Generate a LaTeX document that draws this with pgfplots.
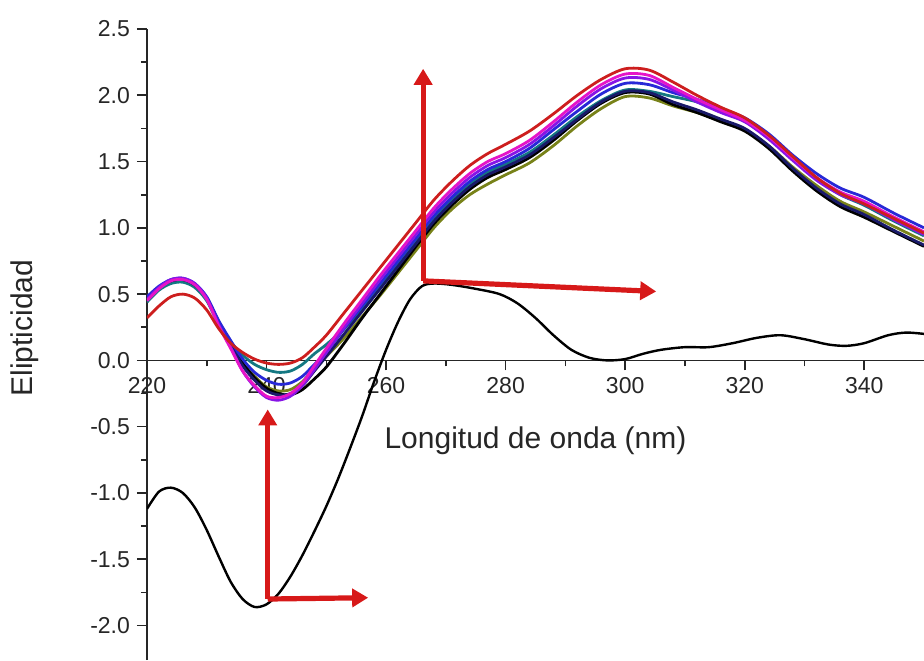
\documentclass[border=0pt]{standalone}
\usepackage{pgfplots}
\usepackage{pgfplotstable}
\pgfplotsset{compat=1.18}
\usepackage{fontspec}
\setmainfont{Liberation Sans}
\usetikzlibrary{arrows.meta,calc}

\definecolor{cred}{RGB}{205,30,30}
\definecolor{cmag}{RGB}{230,20,200}
\definecolor{cvio}{RGB}{135,20,230}
\definecolor{cblue}{RGB}{40,40,215}
\definecolor{cnavy}{RGB}{25,25,105}
\definecolor{cteal}{RGB}{20,120,130}
\definecolor{colive}{RGB}{120,130,25}
\definecolor{arrred}{RGB}{215,25,25}

\pgfplotstableread{
x r m v b n t o k
220 0.32 0.45 0.46 0.48 0.47 0.44 0.46 0.47
222 0.41 0.54 0.55 0.56 0.55 0.53 0.54 0.55
224 0.48 0.60 0.61 0.61 0.60 0.58 0.59 0.60
226 0.50 0.61 0.62 0.62 0.61 0.59 0.60 0.61
228 0.47 0.57 0.58 0.58 0.57 0.55 0.56 0.57
230 0.38 0.46 0.47 0.48 0.47 0.45 0.46 0.47
232 0.24 0.26 0.27 0.30 0.28 0.27 0.28 0.29
234 0.13 0.09 0.10 0.15 0.12 0.14 0.13 0.13
236 0.06 -0.08 -0.08 0.01 -0.04 0.04 -0.02 -0.02
238 0.01 -0.19 -0.20 -0.09 -0.15 -0.03 -0.12 -0.13
240 -0.02 -0.27 -0.28 -0.15 -0.23 -0.07 -0.20 -0.21
242 -0.03 -0.28 -0.30 -0.18 -0.26 -0.09 -0.23 -0.25
244 -0.02 -0.25 -0.27 -0.17 -0.25 -0.08 -0.22 -0.26
246 0.02 -0.17 -0.19 -0.12 -0.19 -0.03 -0.16 -0.22
248 0.10 -0.04 -0.07 -0.03 -0.08 0.05 -0.06 -0.14
250 0.19 0.09 0.06 0.06 0.03 0.12 0.03 -0.05
253 0.36 0.28 0.25 0.24 0.20 0.24 0.17 0.13
256 0.53 0.46 0.43 0.41 0.37 0.39 0.33 0.32
259 0.70 0.64 0.61 0.58 0.54 0.56 0.49 0.50
262 0.87 0.81 0.78 0.75 0.71 0.73 0.66 0.68
265 1.04 0.98 0.95 0.92 0.88 0.90 0.83 0.86
268 1.21 1.15 1.12 1.09 1.05 1.07 1.00 1.03
271 1.35 1.29 1.26 1.23 1.19 1.21 1.14 1.17
274 1.47 1.41 1.38 1.35 1.31 1.33 1.25 1.29
277 1.56 1.50 1.47 1.44 1.40 1.42 1.33 1.38
280 1.63 1.56 1.53 1.50 1.46 1.48 1.40 1.44
284 1.73 1.66 1.63 1.60 1.55 1.57 1.49 1.53
288 1.86 1.80 1.77 1.74 1.68 1.70 1.62 1.66
292 2.00 1.95 1.92 1.88 1.82 1.84 1.77 1.81
296 2.12 2.08 2.05 2.01 1.95 1.96 1.90 1.94
300 2.20 2.16 2.13 2.09 2.03 2.04 1.99 2.02
304 2.19 2.15 2.12 2.08 2.02 2.03 1.98 2.01
308 2.10 2.06 2.04 2.02 1.95 1.99 1.92 1.93
312 2.00 1.97 1.95 1.97 1.89 1.95 1.87 1.87
316 1.91 1.89 1.87 1.90 1.82 1.88 1.81 1.80
320 1.83 1.81 1.80 1.83 1.75 1.81 1.74 1.73
324 1.70 1.69 1.67 1.71 1.62 1.69 1.62 1.60
328 1.54 1.53 1.51 1.55 1.45 1.52 1.46 1.43
332 1.38 1.38 1.36 1.41 1.30 1.37 1.32 1.28
336 1.26 1.27 1.25 1.30 1.18 1.25 1.20 1.16
340 1.18 1.20 1.18 1.23 1.10 1.17 1.12 1.08
345 1.07 1.08 1.06 1.11 0.98 1.05 1.01 0.97
350 0.96 0.97 0.95 1.00 0.87 0.94 0.90 0.86
}\bundle

\pgfplotstableread{
x y
220 -1.12
222 -0.99
224 -0.96
226 -1.00
228 -1.11
230 -1.28
232 -1.48
234 -1.67
236 -1.80
238 -1.86
240 -1.84
242 -1.76
244 -1.63
246 -1.47
248 -1.29
250 -1.10
252 -0.89
254 -0.66
256 -0.42
258 -0.16
260 0.08
262 0.29
264 0.46
266 0.56
268 0.58
271 0.57
275 0.54
279 0.50
282 0.43
285 0.32
288 0.19
291 0.08
294 0.02
297 0.00
300 0.01
303 0.05
306 0.08
310 0.10
314 0.10
318 0.13
322 0.17
326 0.19
330 0.16
334 0.12
337 0.11
340 0.13
344 0.19
347 0.21
350 0.20
}\diff

\begin{document}
\begin{tikzpicture}
\begin{axis}[
  name=ax,
  scale only axis,
  width=388.5pt, height=315.5pt,
  xmin=220, xmax=350, ymin=-2.26, ymax=2.5,
  axis x line=middle, axis y line=left,
  axis line style={-, line width=0.9pt, black!85},
  xtick={220,240,...,340},
  ytick={-2,-1.5,...,2.5},
  minor x tick num=1, minor y tick num=1,
  tick align=outside,
  major tick length=5pt, minor tick length=3pt,
  tick style={line width=0.8pt, black!85},
  /pgf/number format/assume math mode=true,
  ticklabel style={font=\fontsize{11.5}{13}\selectfont, text=black!85},
  yticklabel style={/pgf/number format/.cd, fixed, fixed zerofill, precision=1},
  xticklabel style={/pgf/number format/.cd, fixed, precision=0, 1000 sep={}},
  hide obscured x ticks=false, hide obscured y ticks=false,
  xlabel={Longitud de onda (nm)}, ylabel={Elipticidad},
  every axis x label/.style={at={(axis description cs:0.5,0.347)}, anchor=center, font=\fontsize{15}{18}\selectfont, text=black!85},
  every axis y label/.style={at={(axis description cs:-0.157,0.526)}, anchor=center, rotate=90, font=\fontsize{15}{18}\selectfont, text=black!85},
  clip=true,
]
\addplot[colive, line width=1.4pt, smooth] table[x=x, y=o] {\bundle};
\addplot[cteal, line width=1.4pt, smooth] table[x=x, y=t] {\bundle};
\addplot[black, line width=1.4pt, smooth] table[x=x, y=k] {\bundle};
\addplot[cnavy, line width=1.4pt, smooth] table[x=x, y=n] {\bundle};
\addplot[cblue, line width=1.4pt, smooth] table[x=x, y=b] {\bundle};
\addplot[cvio, line width=1.4pt, smooth] table[x=x, y=v] {\bundle};
\addplot[cmag, line width=1.4pt, smooth] table[x=x, y=m] {\bundle};
\addplot[cred, line width=1.4pt, smooth] table[x=x, y=r] {\bundle};
\addplot[black, line width=1.2pt, smooth] table[x=x, y=y] {\diff};

\draw[-{Triangle[width=9pt,length=8pt]}, line width=2.6pt, arrred] (axis cs:240.2,-1.80) -- (axis cs:240.2,-0.37);
\draw[-{Triangle[width=9pt,length=8pt]}, line width=2.6pt, arrred] (axis cs:240.2,-1.80) -- (axis cs:257,-1.79);
\draw[-{Triangle[width=9pt,length=8pt]}, line width=2.6pt, arrred] (axis cs:266.2,0.60) -- (axis cs:266.2,2.20);
\draw[-{Triangle[width=9pt,length=8pt]}, line width=2.6pt, arrred] (axis cs:266.2,0.60) -- (axis cs:305.2,0.52);
\end{axis}
\pgfresetboundingbox
\path[use as bounding box] ($(ax.south west)+(-73.5pt,0pt)$) rectangle ($(ax.north east)+(0pt,14.5pt)$);
\end{tikzpicture}
\end{document}
